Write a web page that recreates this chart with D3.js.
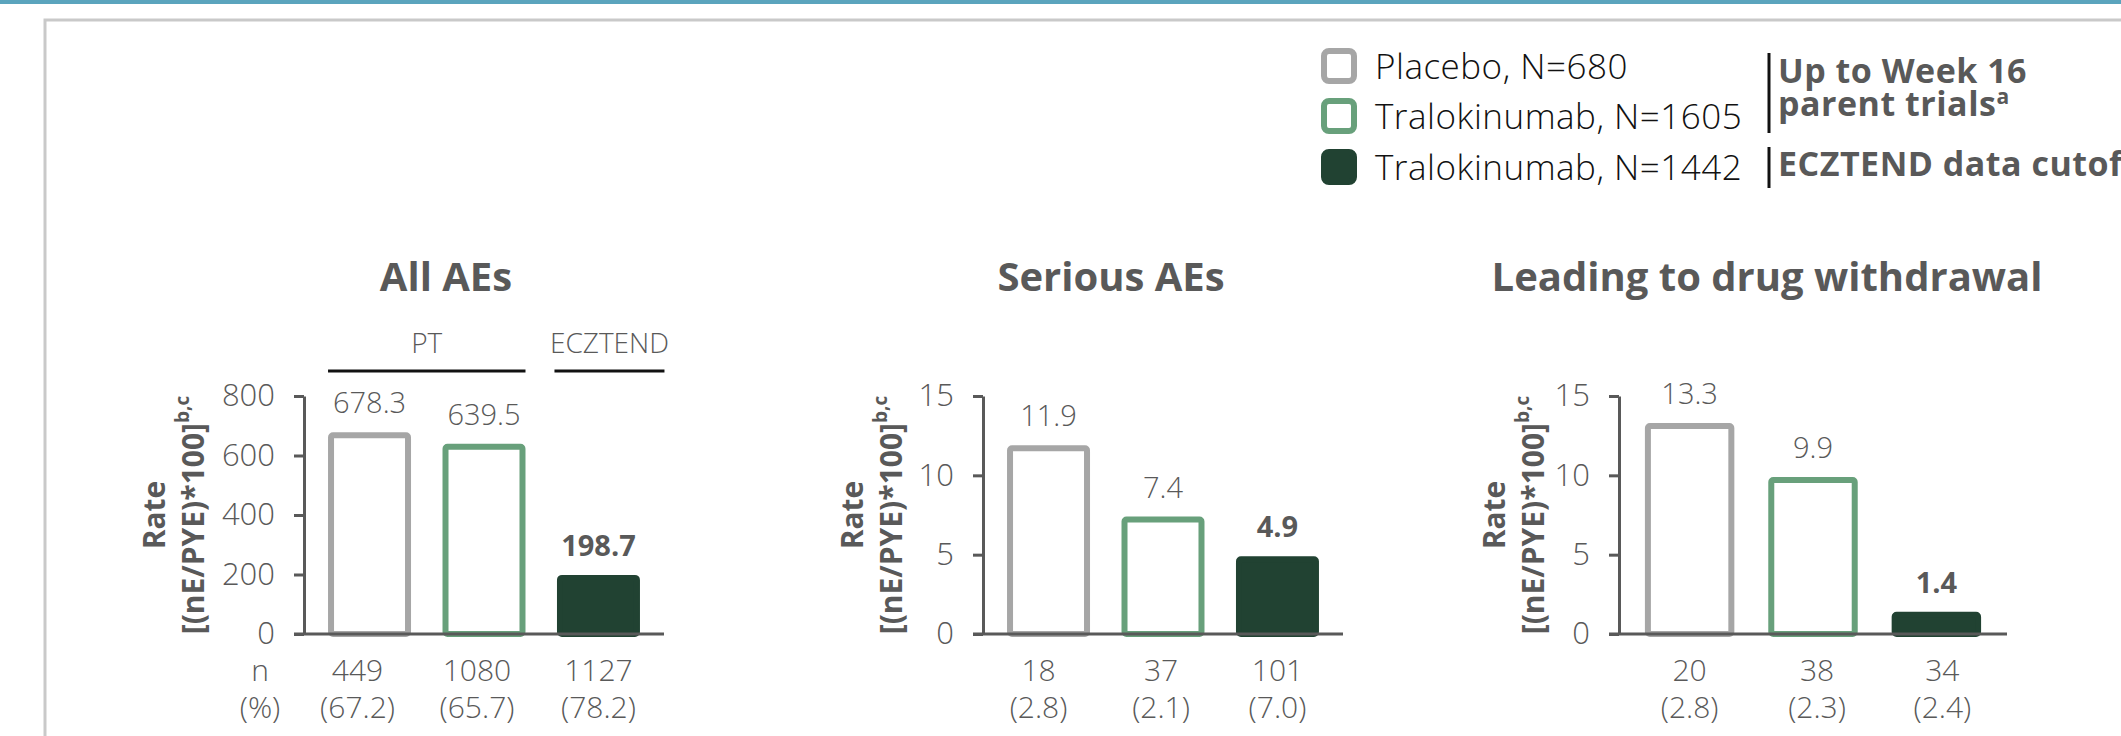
<!DOCTYPE html>
<html>
<head>
<meta charset="utf-8">
<script src="https://cdn.jsdelivr.net/npm/d3@7"></script>
<style>
  html, body { margin: 0; padding: 0; background: #fff; overflow: hidden; }
  text { font-family: "Open Sans", Lato, sans-serif; }
  .light { font-weight: 300; fill: #595959; }
  .bold { font-weight: 700; fill: #595959; }
</style>
</head>
<body>
<div id="chart"></div>
<script>
// ---- data ----
const groups = ['Placebo, N=680', 'Tralokinumab, N=1605', 'Tralokinumab, N=1442'];
const periods = ['Up to Week 16', 'parent trials', 'ECZTEND data cutoff'];
const panelTitles = ['All AEs', 'Serious AEs', 'Leading to drug withdrawal'];
const rates = [
    [678.3, 639.5, 198.7],
    [11.9, 7.4, 4.9],
    [13.3, 9.9, 1.4]
];
const counts = [
    [449, 1080, 1127],
    [18, 37, 101],
    [20, 38, 34]
];
const pcts = [
    ['67.2', '65.7', '78.2'],
    ['2.8', '2.1', '7.0'],
    ['2.8', '2.3', '2.4']
];
const yMax = [800, 15, 15];
const yTicks = [
    [0, 200, 400, 600, 800],
    [0, 5, 10, 15],
    [0, 5, 10, 15]
];

// ---- layout ----
const W = 2121, H = 736;
const panelX = [304, 983, 1619];
const panelW = [360, 360, 388];
const titleDx = [-38, -52, -46];
const yTitleOffset = [151, 132, 126];
const nNudge = [[-12, -7, 0], [-10, -2, 0], [0, 4, 6]];
const plotTop = 396, plotBottom = 634;
const strokeCol = ['#a6a6a6', '#68a07b', '#214232'];
const fillCol = ['#fff', '#fff', '#214232'];

const svg = d3.select('#chart').append('svg')
    .attr('width', W)
    .attr('height', H);

// slide frame
svg.append('rect').attr('x', 0).attr('y', 0).attr('width', W).attr('height', 4).attr('fill', '#5ba4bd');
svg.append('rect')
    .attr('x', 45).attr('y', 20).attr('width', W + 100).attr('height', H + 100)
    .attr('fill', 'none').attr('stroke', '#c9c9c9').attr('stroke-width', 3);

// legend
const legend = svg.append('g');
const legendY = [66, 116, 167];
groups.forEach((g, i) => {
    legend.append('rect')
        .attr('x', 1324).attr('y', legendY[i] - 15)
        .attr('width', 30).attr('height', 30)
        .attr('rx', 5)
        .attr('fill', fillCol[i])
        .attr('stroke', strokeCol[i])
        .attr('stroke-width', 6);
    legend.append('text')
        .attr('class', 'light')
        .style('fill', '#111')
        .attr('x', 1375).attr('y', legendY[i] + 13)
        .attr('font-size', 35)
        .attr('letter-spacing', 0.5)
        .text(g);
});
legend.append('line').attr('x1', 1769).attr('x2', 1769).attr('y1', 53).attr('y2', 133)
    .attr('stroke', '#111').attr('stroke-width', 3);
legend.append('line').attr('x1', 1769).attr('x2', 1769).attr('y1', 147).attr('y2', 188)
    .attr('stroke', '#111').attr('stroke-width', 3);
legend.append('text').attr('class', 'bold').attr('x', 1778).attr('y', 83)
    .attr('font-size', 34).attr('letter-spacing', 0.5).text(periods[0]);
legend.append('text').attr('class', 'bold').attr('x', 1778).attr('y', 116)
    .attr('font-size', 34).attr('letter-spacing', 0.5)
    .text(periods[1])
    .append('tspan').attr('font-size', 21).attr('dy', -12).text('a');
legend.append('text').attr('class', 'bold').attr('x', 1778).attr('y', 176)
    .attr('font-size', 34).attr('letter-spacing', 0.5).text(periods[2]);

// panels
panelTitles.forEach((title, p) => {
    const g = svg.append('g').attr('transform', `translate(${panelX[p]},0)`);
    const w = panelW[p];

    const x = d3.scaleBand()
        .domain(d3.range(groups.length))
        .range([0, w])
        .paddingInner(0.275)
        .paddingOuter(0.21);

    const y = d3.scaleLinear()
        .domain([0, yMax[p]])
        .range([plotBottom, plotTop]);

    // title
    g.append('text')
        .attr('class', 'bold')
        .attr('x', w / 2 + titleDx[p])
        .attr('y', 291)
        .attr('font-size', 40)
        .attr('text-anchor', 'middle')
        .text(title);

    // y axis
    const yAxis = d3.axisLeft(y)
        .tickValues(yTicks[p])
        .tickSize(10)
        .tickSizeOuter(0)
        .tickPadding(19);
    const yAxisG = g.append('g').call(yAxis);
    yAxisG.select('.domain').attr('stroke', '#595959').attr('stroke-width', 3);
    yAxisG.selectAll('.tick line').attr('stroke', '#595959').attr('stroke-width', 3);
    yAxisG.selectAll('.tick text')
        .attr('class', 'light')
        .attr('font-size', 31)
        .attr('font-family', null);

    // bars: outlined for parent trials, filled for ECZTEND
    g.selectAll('.bar')
        .data(rates[p])
        .join('rect')
        .attr('class', 'bar')
        .attr('x', (d, i) => x(i) + 3)
        .attr('y', d => y(d) + 3)
        .attr('width', x.bandwidth() - 6)
        .attr('height', d => plotBottom - y(d) - 3)
        .attr('rx', 2)
        .attr('fill', (d, i) => fillCol[i])
        .attr('stroke', (d, i) => strokeCol[i])
        .attr('stroke-width', 6);

    // baseline
    g.append('line')
        .attr('x1', -10).attr('x2', w)
        .attr('y1', plotBottom).attr('y2', plotBottom)
        .attr('stroke', '#595959').attr('stroke-width', 3);

    // value labels
    g.selectAll('.val')
        .data(rates[p])
        .join('text')
        .attr('class', (d, i) => i === 2 ? 'val bold' : 'val light')
        .attr('x', (d, i) => x(i) + x.bandwidth() / 2)
        .attr('y', d => y(d) - 19)
        .attr('font-size', 29)
        .attr('text-anchor', 'middle')
        .text(d => d.toFixed(1));

    // n and %
    g.selectAll('.n')
        .data(counts[p])
        .join('text')
        .attr('class', 'n light')
        .attr('x', (d, i) => x(i) + x.bandwidth() / 2 + nNudge[p][i])
        .attr('y', 681)
        .attr('font-size', 30)
        .attr('text-anchor', 'middle')
        .text(d => d);
    g.selectAll('.pct')
        .data(pcts[p])
        .join('text')
        .attr('class', 'pct light')
        .attr('x', (d, i) => x(i) + x.bandwidth() / 2 + nNudge[p][i])
        .attr('y', 718)
        .attr('font-size', 30)
        .attr('text-anchor', 'middle')
        .text(d => `(${d})`);

    // y axis title
    const ty = (plotTop + plotBottom) / 2;
    g.append('text')
        .attr('class', 'bold')
        .attr('transform', `translate(${-yTitleOffset[p]},${ty}) rotate(-90)`)
        .attr('dominant-baseline', 'central')
        .attr('text-anchor', 'middle')
        .attr('font-size', 30)
        .text('Rate');
    g.append('text')
        .attr('class', 'bold')
        .attr('transform', `translate(${-yTitleOffset[p] + 39},${ty}) rotate(-90)`)
        .attr('dominant-baseline', 'central')
        .attr('text-anchor', 'middle')
        .attr('font-size', 30)
        .text('[(nE/PYE)*100]')
        .append('tspan').attr('font-size', 19).attr('dy', -10).text('b,c');

    if (p === 0) {
        // n / (%) row headers
        g.append('text').attr('class', 'light').attr('x', -44).attr('y', 681)
            .attr('font-size', 30).attr('text-anchor', 'middle').text('n');
        g.append('text').attr('class', 'light').attr('x', -44).attr('y', 718)
            .attr('font-size', 30).attr('text-anchor', 'middle').text('(%)');

        // PT / ECZTEND brackets
        const ptL = x(0), ptR = x(1) + x.bandwidth();
        g.append('line').attr('x1', ptL).attr('x2', ptR).attr('y1', 371).attr('y2', 371)
            .attr('stroke', '#111').attr('stroke-width', 3);
        g.append('text').attr('class', 'light').attr('x', (ptL + ptR) / 2).attr('y', 353)
            .attr('font-size', 28).attr('text-anchor', 'middle').text('PT');
        const ec = x(2) + x.bandwidth() / 2 + 11;
        g.append('line').attr('x1', ec - 55).attr('x2', ec + 55).attr('y1', 371).attr('y2', 371)
            .attr('stroke', '#111').attr('stroke-width', 3);
        g.append('text').attr('class', 'light').attr('x', ec).attr('y', 353)
            .attr('font-size', 28).attr('text-anchor', 'middle').text('ECZTEND');
    }
});
</script>
</body>
</html>
